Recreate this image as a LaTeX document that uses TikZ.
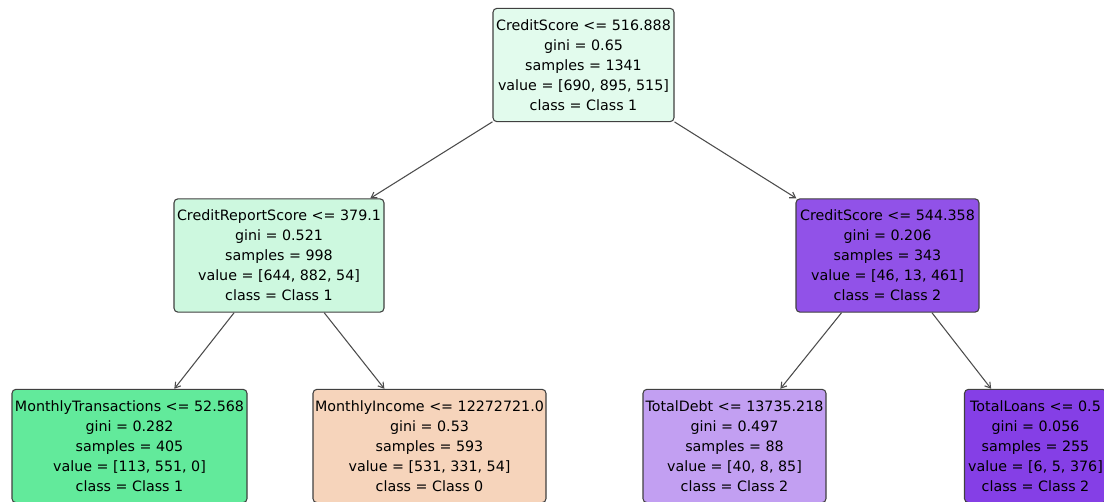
\documentclass[tikz,border=0pt]{standalone}
\usepackage{fontspec}
\setmainfont{DejaVu Sans}
\usetikzlibrary{arrows.meta}
\definecolor{nroot}{HTML}{E2FBED}
\definecolor{nl}{HTML}{CDF8DF}
\definecolor{nr}{HTML}{9152E8}
\definecolor{nll}{HTML}{62EA9B}
\definecolor{nlr}{HTML}{F6D4BB}
\definecolor{nrl}{HTML}{C29FF2}
\definecolor{nrr}{HTML}{853FE6}
\begin{document}
\begin{tikzpicture}[x=0.75pt,y=-0.75pt,
  tn/.style={draw=black!75, line width=0.8pt, rounded corners=3pt, align=center,
    font=\fontsize{10.7}{15}\selectfont, inner sep=0pt, minimum height=85pt},
  edge/.style={draw=black!70, line width=0.8pt, -{Straight Barb[length=4pt,width=5pt]}}]
\useasboundingbox (0,0) rectangle (1104,502);
\clip (0,0) rectangle (1104,502);
\node[tn, fill=nroot, minimum width=135.75pt] (root) at (583.5,65)
  {CreditScore <= 516.888\\gini = 0.65\\samples = 1341\\value = [690, 895, 515]\\class = Class 1};
\node[tn, fill=nl, minimum width=157.5pt] (l) at (279,255.5)
  {CreditReportScore <= 379.1\\gini = 0.521\\samples = 998\\value = [644, 882, 54]\\class = Class 1};
\node[tn, fill=nr, minimum width=137.25pt] (r) at (887.5,255.5)
  {CreditScore <= 544.358\\gini = 0.206\\samples = 343\\value = [46, 13, 461]\\class = Class 2};
\node[tn, fill=nll, minimum width=176.25pt] (ll) at (129.5,446)
  {MonthlyTransactions <= 52.568\\gini = 0.282\\samples = 405\\value = [113, 551, 0]\\class = Class 1};
\node[tn, fill=nlr, minimum width=174.75pt] (lr) at (429.5,446)
  {MonthlyIncome <= 12272721.0\\gini = 0.53\\samples = 593\\value = [531, 331, 54]\\class = Class 0};
\node[tn, fill=nrl, minimum width=137.25pt] (rl) at (734.5,446)
  {TotalDebt <= 13735.218\\gini = 0.497\\samples = 88\\value = [40, 8, 85]\\class = Class 2};
\node[tn, fill=nrr, minimum width=106.5pt] (rr) at (1035.5,446)
  {TotalLoans <= 0.5\\gini = 0.056\\samples = 255\\value = [6, 5, 376]\\class = Class 2};
\draw[edge] (root) -- (l);
\draw[edge] (root) -- (r);
\draw[edge] (l) -- (ll);
\draw[edge] (l) -- (lr);
\draw[edge] (r) -- (rl);
\draw[edge] (r) -- (rr);
\end{tikzpicture}
\end{document}
